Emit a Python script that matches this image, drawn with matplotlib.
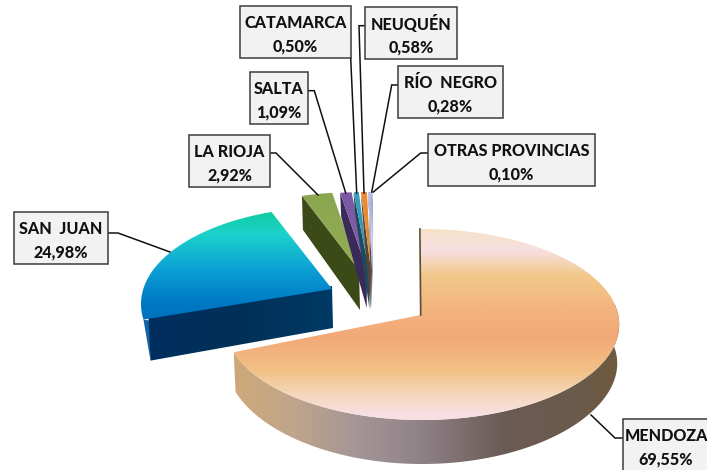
import numpy as np
import matplotlib
matplotlib.use("Agg")
import matplotlib.pyplot as plt
from matplotlib.colors import LinearSegmentedColormap as LSC
from matplotlib.patches import Polygon, Rectangle

# ---- data ----
provinces = ["MENDOZA", "SAN  JUAN", "LA RIOJA", "SALTA", "CATAMARCA", "NEUQUÉN", "RÍO  NEGRO", "OTRAS PROVINCIAS"]
shares = [69.55, 24.98, 2.92, 1.09, 0.50, 0.58, 0.28, 0.10]

# ---- layout (pixels) ----
apex_top = [(420.7, 315), (332, 289), (359, 270), (367, 270), (369, 270), (371, 270), (372, 270), (372.5, 270)]
apex_bot = [None, (333, 328), (360, 310), (366.7, 308), (369.5, 309), (370.5, 309), (371, 309), (371.5, 309)]
outer_depth = [44, 41, 34, 24, 18, 16, 12, 10]
# ellipse half-axes, ellipse centre offset from the apex, and vertical scale of the rays
radii = [(197, 95.5, 1.5, 9.5, 110), (191, 97, 0, 15, 87)] + [(200, 93, 0, 15, 93)] * 6
top_colors = [None, None,
              ["#8aa64e", "#93ad55"], ["#7a58a2", "#7f60a8"], ["#3a9cbc", "#3492ae"],
              ["#ea8c34", "#e08a3a"], ["#bcbcea", "#a8a8dc"], ["#8fa8d8", "#7f98c8"]]
side_colors = [None, None, "#3c4a18", "#3a2a5a", "#1e4a5e", "#5a4434", "#4e4a58", "#4a5068"]
boxes = {"MENDOZA": (623, 419, 100, 60), "SAN  JUAN": (14, 212, 94, 52), "LA RIOJA": (189, 135, 81, 52),
         "SALTA": (250, 72, 58, 52), "CATAMARCA": (240, 6, 111, 52), "NEUQUÉN": (365, 7, 92, 52),
         "RÍO  NEGRO": (398, 66, 105, 52), "OTRAS PROVINCIAS": (428, 134, 167, 52)}
leaders = {"MENDOZA": [(622.7, 438), (615, 438), (591, 415)],
           "SAN  JUAN": [(108, 233), (118, 233), (170, 252)],
           "LA RIOJA": [(270, 153), (276, 153), (318, 195)],
           "SALTA": [(308, 90.7), (314.3, 90.7), (345.7, 193)],
           "CATAMARCA": [(350.7, 58), (356.7, 193)],
           "NEUQUÉN": [(365, 25.7), (359, 25.7), (364, 193)],
           "RÍO  NEGRO": [(398, 85), (391.7, 85), (371.7, 192)],
           "OTRAS PROVINCIAS": [(428, 153), (420.7, 153), (373.3, 192)]}

W, H = 707, 470
fig = plt.figure(figsize=(W / 100, H / 100), dpi=100)
ax = fig.add_axes([0, 0, 1, 1])
ax.set_xlim(0, W)
ax.set_ylim(H, 0)
ax.axis("off")


def arc(apex, rad, t0, t1, n=120):
    """Outer edge of a slice: rays from apex at pie angles, cut by the ellipse."""
    R, ry, ox, oy, ray_ry = rad
    th = np.radians(np.linspace(t0, t1, n))
    dx, dy = R * np.sin(th), -ray_ry * np.cos(th)
    a = (dx / R) ** 2 + (dy / ry) ** 2
    b = -2 * (dx * ox / R ** 2 + dy * oy / ry ** 2)
    c = (ox / R) ** 2 + (oy / ry) ** 2 - 1
    t = (-b + np.sqrt(b * b - 4 * a * c)) / (2 * a)
    return np.column_stack([apex[0] + t * dx, apex[1] + t * dy])


def gradient(pts, stops, vertical=True, z=1):
    pts = np.asarray(pts)
    x0, y0 = pts.min(0)
    x1, y1 = pts.max(0)
    cmap = LSC.from_list("g", stops)
    g = np.linspace(0, 1, 256)
    g = g[:, None] if vertical else g[None, :]
    im = ax.imshow(g, cmap=cmap, vmin=0, vmax=1, extent=(x0, x1, y1, y0), aspect="auto",
                   zorder=z, interpolation="bilinear")
    im.set_clip_path(Polygon(pts, closed=True, transform=ax.transData))
    ax.set_xlim(0, W)
    ax.set_ylim(H, 0)
    return im


edges = np.concatenate([[0], np.cumsum(shares)]) * 3.6

# San Juan
a = arc(apex_top[1], radii[1], edges[1], edges[2])
c = a[0]
d = outer_depth[1]
sliver = [c, c + (6, 1), c + (7, d)]
ax.add_patch(Polygon(sliver, closed=True, fc="#0f62a8", ec="none", zorder=2))
front = [c + (5, -2), np.add(apex_top[1], (0, -3)), apex_bot[1], c + (7, d)]
gradient(front, ["#012f60", "#003058", "#003a66"], vertical=False, z=2)
top = np.vstack([a, [apex_top[1]]])
gradient(top, [(0, "#10cca2"), (0.2, "#1cd2cc"), (0.55, "#0a9ed4"), (0.85, "#0078c4"), (1, "#0070bc")], z=3)

# the small slices
for i in range(2, len(shares)):
    a = arc(apex_top[i], radii[i], edges[i], edges[i + 1], 20)
    z = 4 + i
    ax.add_patch(Polygon([a[0], apex_top[i], apex_bot[i], a[0] + (1, outer_depth[i])], closed=True,
                         fc=side_colors[i], ec="none", zorder=z))
    gradient(np.vstack([a, [apex_top[i]]]), top_colors[i], z=z + 0.5)

# Mendoza
a = arc(apex_top[0], radii[0], edges[0], edges[1], 400)
ang = np.linspace(edges[0], edges[1], 400)
vis = a[ang >= 84]
cx0 = apex_top[0][0]
rel = (vis[:, 0] - cx0) / radii[0][0]
low = np.column_stack([cx0 + (vis[:, 0] - cx0) * 0.99, vis[:, 1] + outer_depth[0] - 5 * rel ** 2])
side = np.vstack([vis, low[::-1]])
gradient(side, [(0, "#cfa878"), (0.15, "#c0a58c"), (0.32, "#a59596"), (0.48, "#8f8288"), (0.70, "#6b5b55"),
                (0.90, "#6a5a4a"), (1, "#6f5a3e")], vertical=False, z=20)
top = np.vstack([a, [apex_top[0]]])
gradient(top, [(0, "#f5e2c8"), (0.11, "#f8dfe2"), (0.24, "#f2c98c"), (0.40, "#f2b67e"), (0.56, "#f3a878"),
               (0.74, "#f1c184"), (0.87, "#f5d8bc"), (0.97, "#f8dfe2"), (1, "#f8dfe2")], z=21)
ax.plot([a[0, 0] - 0.8, apex_top[0][0]], [a[0, 1], apex_top[0][1]], color="#5d4c30", lw=1.2, zorder=22)
ax.plot([a[-1, 0], apex_top[0][0]], [a[-1, 1], apex_top[0][1]], color="white", lw=0.9, zorder=19)

# labels
for name, val in zip(provinces, shares):
    x, y, w, h = boxes[name]
    pts = leaders[name]
    ax.plot(*zip(*pts), color="#111111", lw=1.1, zorder=30, solid_joinstyle="miter")
    ax.add_patch(Rectangle((x, y), w, h, fc="#f2f2f2", ec="#3c3c3c", lw=1.1, zorder=31))
    cx = x + w / 2 if name != "MENDOZA" else 666
    for dy, s in ((17, name), (40, f"{val:.2f}".replace(".", ",") + "%")):
        ax.text(cx, y + dy, s, ha="center", va="center", family="Lato", weight=900,
                fontsize=11.6, color="#111111", zorder=32, clip_on=True)

fig.savefig("out.png", dpi=100, facecolor="white")
